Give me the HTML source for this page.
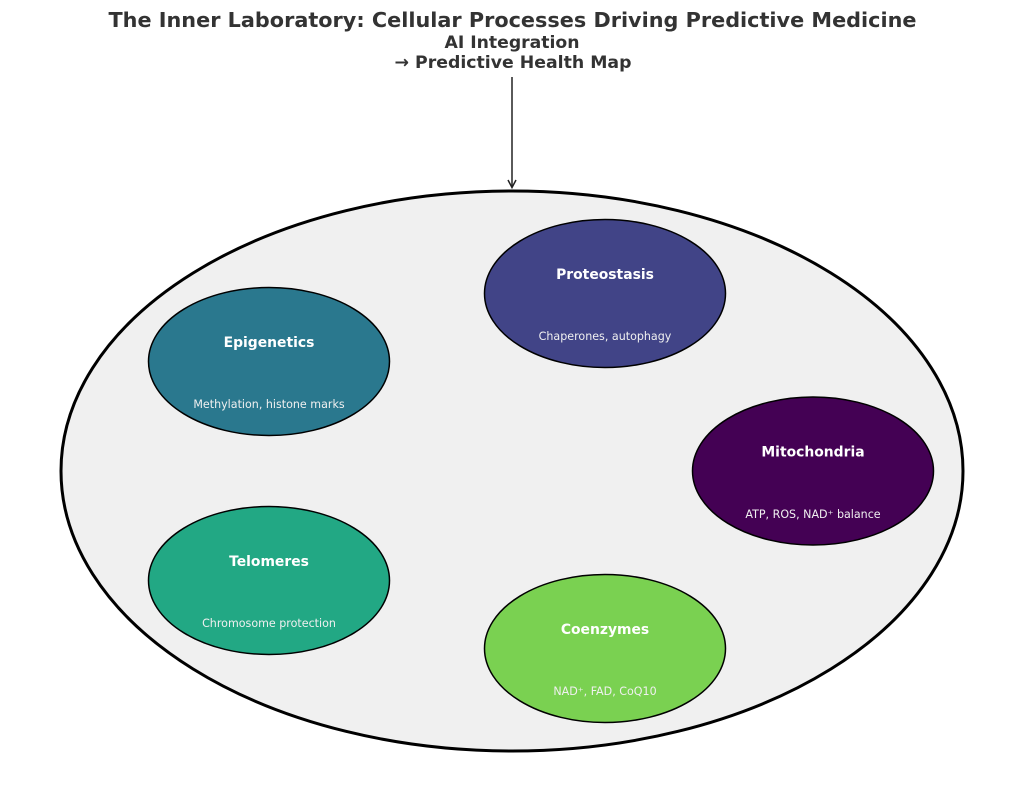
<!DOCTYPE html>
<html>
<head>
<meta charset="utf-8">
<style>
  html, body { margin: 0; padding: 0; background: #ffffff; }
  svg { display: block; }
  text { font-family: "DejaVu Sans", "Liberation Sans", sans-serif; }
</style>
</head>
<body>
<svg width="1024" height="794" viewBox="0 0 1024 794" xmlns="http://www.w3.org/2000/svg">
  <rect x="0" y="0" width="1024" height="794" fill="#ffffff"/>

  <!-- Title -->
  <text x="512.5" y="27" text-anchor="middle" font-size="20.8" font-weight="bold" fill="#333333" textLength="808" lengthAdjust="spacingAndGlyphs">The Inner Laboratory: Cellular Processes Driving Predictive Medicine</text>

  <!-- AI integration label -->
  <text x="512" y="48" text-anchor="middle" font-size="17.3" font-weight="bold" fill="#333333" textLength="135" lengthAdjust="spacingAndGlyphs">AI Integration</text>
  <text x="513" y="68" text-anchor="middle" font-size="17.3" font-weight="bold" fill="#333333" textLength="237" lengthAdjust="spacingAndGlyphs">→ Predictive Health Map</text>

  <!-- Arrow -->
  <line x1="512" y1="77" x2="512" y2="187" stroke="#222222" stroke-width="1.5"/>
  <polyline points="508,180 512,187.5 516,180" fill="none" stroke="#222222" stroke-width="1.5" stroke-linejoin="miter"/>

  <!-- Outer cell -->
  <ellipse cx="512" cy="471" rx="451" ry="280" fill="#f0f0f0" stroke="#000000" stroke-width="3"/>

  <!-- Proteostasis -->
  <ellipse cx="605" cy="293.5" rx="120.5" ry="74" fill="#414487" stroke="#000000" stroke-width="1.5"/>
  <text x="605" y="279" text-anchor="middle" font-size="13.9" font-weight="bold" fill="#ffffff">Proteostasis</text>
  <text x="605" y="340" text-anchor="middle" font-size="11.1" fill="#f0f0f0">Chaperones, autophagy</text>

  <!-- Epigenetics -->
  <ellipse cx="269" cy="361.5" rx="120.5" ry="74" fill="#2a788e" stroke="#000000" stroke-width="1.5"/>
  <text x="269" y="347" text-anchor="middle" font-size="13.9" font-weight="bold" fill="#ffffff">Epigenetics</text>
  <text x="269" y="408" text-anchor="middle" font-size="11.1" fill="#f0f0f0">Methylation, histone marks</text>

  <!-- Mitochondria -->
  <ellipse cx="813" cy="471" rx="120.5" ry="74" fill="#440154" stroke="#000000" stroke-width="1.5"/>
  <text x="813" y="456.5" text-anchor="middle" font-size="13.9" font-weight="bold" fill="#ffffff">Mitochondria</text>
  <text x="813" y="518" text-anchor="middle" font-size="11.1" fill="#f0f0f0">ATP, ROS, NAD⁺ balance</text>

  <!-- Telomeres -->
  <ellipse cx="269" cy="580.5" rx="120.5" ry="74" fill="#22a884" stroke="#000000" stroke-width="1.5"/>
  <text x="269" y="566" text-anchor="middle" font-size="13.9" font-weight="bold" fill="#ffffff">Telomeres</text>
  <text x="269" y="627" text-anchor="middle" font-size="11.1" fill="#f0f0f0">Chromosome protection</text>

  <!-- Coenzymes -->
  <ellipse cx="605" cy="648.5" rx="120.5" ry="74" fill="#7ad151" stroke="#000000" stroke-width="1.5"/>
  <text x="605" y="634" text-anchor="middle" font-size="13.9" font-weight="bold" fill="#ffffff">Coenzymes</text>
  <text x="605" y="695" text-anchor="middle" font-size="11.1" fill="#f0f0f0">NAD⁺, FAD, CoQ10</text>
</svg>
</body>
</html>
